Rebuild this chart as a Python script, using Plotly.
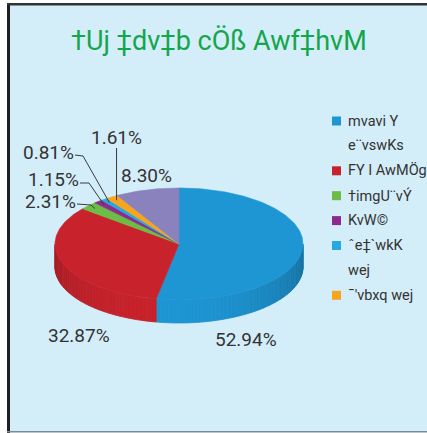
import math
import plotly.graph_objects as go

# ---------------- data ----------------
title_text = "†Uj ‡dv‡b cÖß Awf‡hvM"
categories = ["mvavi Y<br>e¨vswKs", "FY I AwMÖg", "†imgU¨vÝ", "KvW©", "ˆe‡`wkK<br>wej", "¯'vbxq wej", ""]
values = [52.94, 32.87, 2.31, 1.15, 0.81, 1.61, 8.30]
colors = ["#1e96d4", "#c8232c", "#6cbd45", "#8c2a8e", "#27a8df", "#f7a51c", "#8a82bd"]

# ---------------- layout / style ----------------
W, H = 427, 433
CX, CY, RX, RY, DEPTH = 179, 244, 124, 56, 23
LEADER_R = 0.93
LABEL_FONT = "Roboto, Arial, sans-serif"
TEXT_FONT = "Roboto, Arial, sans-serif"
# label text centres (pixels) per slice
label_pos = [(246, 339), (79, 335), (50, 201), (53, 179), (48, 152), (116, 137), (146, 175)]
# leader: start point and elbow (None = no leader)
leader_start = [None, None, (77, 204), (80, 183), (75, 155), "vertical", None]
leader_elbow = [None, None, (91, 205), (89, 183), (83, 156), None, None]


def pt(ang, dy=0.0, r=1.0):
    a = math.radians(ang)
    return CX + r * RX * math.sin(a), CY - r * RY * math.cos(a) + dy


def shade(hexc, f):
    h = hexc.lstrip("#")
    r, g, b = (int(h[i:i + 2], 16) for i in (0, 2, 4))
    return "rgb(%d,%d,%d)" % (min(255, r * f), min(255, g * f), min(255, b * f))


fig = go.Figure()

total = sum(values)
angles = []
a = 0.0
for v in values:
    a1 = a + v / total * 360.0
    angles.append((a, a1))
    a = a1

# side walls (front half only, 90..270 deg clockwise from top)
for (a0, a1), col in zip(angles, colors):
    s0, s1 = max(a0, 90.0), min(a1, 270.0)
    if s1 <= s0:
        continue
    n = max(1, int(math.ceil((s1 - s0) / 2.0)))
    for k in range(n):
        b0 = s0 + (s1 - s0) * k / n
        b1 = s0 + (s1 - s0) * (k + 1) / n
        mid = (b0 + b1) / 2
        f = 0.78 + 0.22 * max(0.0, math.cos(math.radians(mid - 190)))
        c = shade(col, f)
        top = [pt(b0 + (b1 - b0) * j / 3) for j in range(4)]
        bot = [pt(b1 - (b1 - b0) * j / 3, DEPTH) for j in range(4)]
        xs = [p[0] for p in top + bot] + [top[0][0]]
        ys = [p[1] for p in top + bot] + [top[0][1]]
        fig.add_trace(go.Scatter(x=xs, y=ys, mode="lines", fill="toself",
                                 fillcolor=c, line=dict(color=c, width=0.8),
                                 hoverinfo="skip", showlegend=False))

# top faces
for (a0, a1), col in zip(angles, colors):
    n = max(2, int(math.ceil(a1 - a0)))
    arc = [pt(a0 + (a1 - a0) * j / n) for j in range(n + 1)]
    xs = [CX] + [p[0] for p in arc] + [CX]
    ys = [CY] + [p[1] for p in arc] + [CY]
    fig.add_trace(go.Scatter(x=xs, y=ys, mode="lines", fill="toself",
                             fillcolor=col, line=dict(color=col, width=0.6),
                             hoverinfo="skip", showlegend=False))

# leader lines
for i, ((a0, a1), st, el) in enumerate(zip(angles, leader_start, leader_elbow)):
    if st is None:
        continue
    ex, ey = pt((a0 + a1) / 2, r=LEADER_R)
    if st == "vertical":
        xs, ys = [ex, ex], [label_pos[i][1] + 11, ey]
    else:
        xs, ys = [st[0], el[0], ex], [st[1], el[1], ey]
    fig.add_trace(go.Scatter(x=xs, y=ys, mode="lines",
                             line=dict(color="#3a3a3a", width=1),
                             hoverinfo="skip", showlegend=False))

annotations = []
for v, (lx, ly) in zip(values, label_pos):
    annotations.append(dict(x=lx, y=ly, xref="x", yref="y", text=f"{v:.2f}%",
                            showarrow=False, xanchor="center", yanchor="middle",
                            font=dict(family=LABEL_FONT, size=19, color="#333333")))

# title
annotations.append(dict(x=219, y=41, xref="x", yref="y", text=title_text, showarrow=False,
                        xanchor="center", yanchor="middle",
                        font=dict(family=TEXT_FONT, size=27, color="#14a64b")))

shapes = [
    dict(type="rect", xref="x", yref="y", x0=7, x1=W + 5, y0=3, y1=432,
         fillcolor="#d3edf9", line=dict(width=0), layer="below"),
    dict(type="line", xref="x", yref="y", x0=8.5, x1=8.5, y0=3, y1=433,
         line=dict(color="#231f20", width=3)),
    dict(type="line", xref="x", yref="y", x0=7, x1=W + 5, y0=4.3, y1=4.3,
         line=dict(color="#333333", width=2.5)),
    dict(type="line", xref="x", yref="y", x0=7, x1=W + 5, y0=431.7, y1=431.7,
         line=dict(color="#7d8b94", width=1.5)),
]

# manual legend
row_y0, row_gap = 121, 24.9
row = 0
for cat, col in zip(categories, colors):
    if not cat:
        continue
    lines = cat.split("<br>")
    y = row_y0 + row * row_gap
    shapes.append(dict(type="rect", xref="x", yref="y", x0=332, x1=341, y0=y - 4.5, y1=y + 4.5,
                       fillcolor=col, line=dict(width=0)))
    for j, ln in enumerate(lines):
        annotations.append(dict(x=346, y=y + j * row_gap, xref="x", yref="y", text=ln,
                                showarrow=False, xanchor="left", yanchor="middle",
                                font=dict(family=TEXT_FONT, size=14.5, color="#333333")))
    row += len(lines)

fig.update_layout(
    width=W, height=H, margin=dict(l=0, r=0, t=0, b=0),
    paper_bgcolor="white", plot_bgcolor="rgba(0,0,0,0)",
    xaxis=dict(range=[0, W], visible=False, fixedrange=True),
    yaxis=dict(range=[H, 0], visible=False, fixedrange=True),
    showlegend=False, shapes=shapes, annotations=annotations,
)

fig.write_html("out.html", config={"displayModeBar": False},
               post_script="document.body.style.margin='0';document.body.style.overflow='hidden';")
